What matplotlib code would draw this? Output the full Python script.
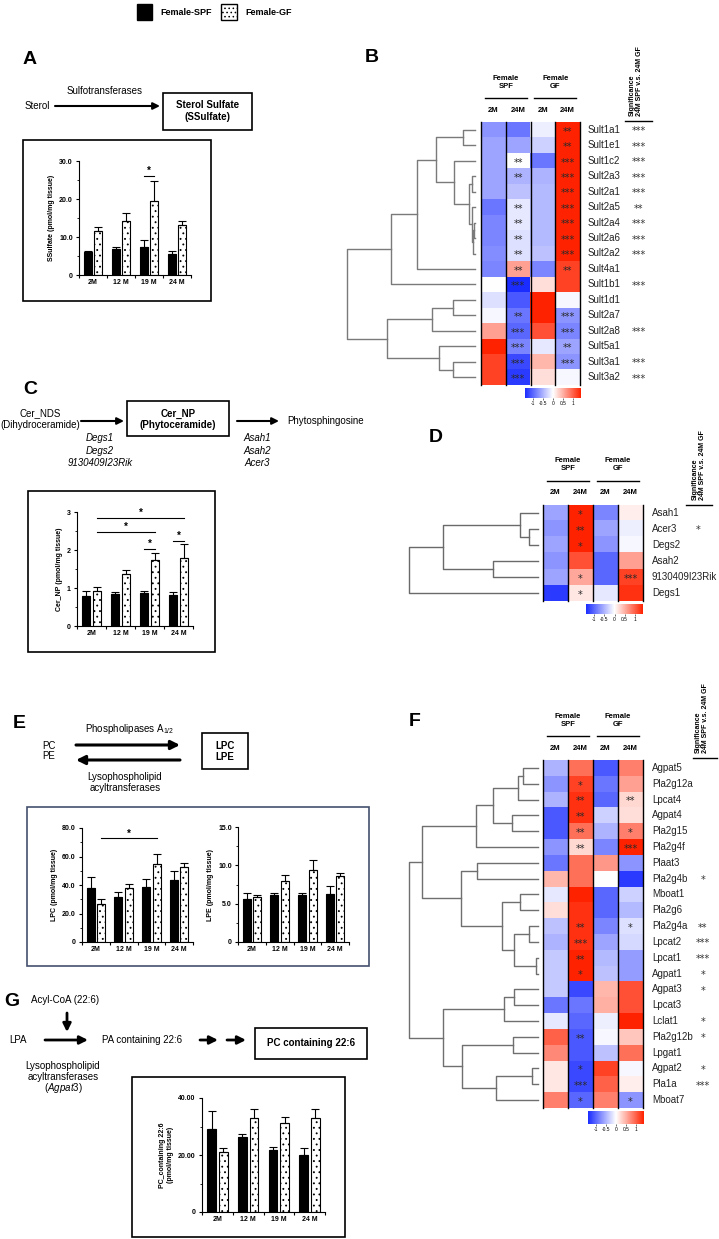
import numpy as np
import matplotlib
matplotlib.use('Agg')
import matplotlib.pyplot as plt
from matplotlib.colors import LinearSegmentedColormap
from matplotlib.patches import Patch, Rectangle
from matplotlib.ticker import MultipleLocator

plt.rcParams['font.family'] = ['Liberation Sans', 'DejaVu Sans']
plt.rcParams['mathtext.fontset'] = 'custom'
plt.rcParams['mathtext.rm'] = 'Liberation Sans'
plt.rcParams['mathtext.it'] = 'Liberation Sans:italic'
plt.rcParams['hatch.linewidth'] = 0.6

# ---------------- bar chart data (mean and upper error) ----------------
ages = ['2M', '12 M', '19 M', '24 M']

ssulfate_spf = [6.1, 6.8, 7.3, 5.5]
ssulfate_spf_err = [0.3, 0.7, 1.8, 0.7]
ssulfate_gf = [11.5, 14.2, 19.6, 13.2]
ssulfate_gf_err = [1.1, 2.0, 5.1, 0.9]
# significance bars: (group, series) -> (group, series), height
ssulfate_sig = [((2, 0), (2, 1), 26.1)]

cernp_spf = [0.80, 0.84, 0.87, 0.81]
cernp_spf_err = [0.13, 0.06, 0.05, 0.08]
cernp_gf = [0.91, 1.36, 1.75, 1.80]
cernp_gf_err = [0.12, 0.11, 0.17, 0.35]
cernp_sig = [((0, 1), (3, 1), 2.85), ((0, 1), (2, 1), 2.48),
             ((2, 0), (2, 1), 2.03), ((3, 0), (3, 1), 2.23)]

lpc_spf = [38.1, 31.9, 38.6, 43.7]
lpc_spf_err = [7.5, 3.0, 5.6, 6.1]
lpc_gf = [27.0, 37.7, 54.4, 52.6]
lpc_gf_err = [3.0, 2.8, 7.7, 3.0]
lpc_sig = [((0, 1), (2, 1), 72.7)]

lpe_spf = [5.65, 6.1, 6.1, 6.3]
lpe_spf_err = [0.8, 0.3, 0.35, 0.95]
lpe_gf = [5.85, 8.0, 9.35, 8.6]
lpe_gf_err = [0.3, 0.75, 1.3, 0.45]

pc226_spf = [29.1, 26.3, 21.8, 20.0]
pc226_spf_err = [6.3, 1.1, 1.1, 2.5]
pc226_gf = [21.0, 33.0, 31.3, 33.0]
pc226_gf_err = [1.4, 3.1, 2.1, 3.2]

# ---------------- heatmap data (z-scores) ----------------
heat_cols = ['2M', '24M', '2M', '24M']

b_genes = ['Sult1a1', 'Sult1e1', 'Sult1c2', 'Sult2a3', 'Sult2a1', 'Sult2a5', 'Sult2a4',
           'Sult2a6', 'Sult2a2', 'Sult4a1', 'Sult1b1', 'Sult1d1', 'Sult2a7', 'Sult2a8',
           'Sult5a1', 'Sult3a1', 'Sult3a2']
b_vals = [[-0.7, -0.9, -0.1, 1.4], [-0.6, -0.6, -0.3, 1.4], [-0.6, 0.0, -0.9, 1.4],
          [-0.6, -0.5, -0.5, 1.4], [-0.6, -0.4, -0.45, 1.4], [-0.9, -0.15, -0.45, 1.4],
          [-0.8, -0.15, -0.45, 1.4], [-0.8, -0.2, -0.45, 1.4], [-0.75, -0.2, -0.4, 1.4],
          [-0.8, 0.6, -0.8, 1.2], [0.0, -1.4, 0.2, 1.2], [-0.2, -1.1, 1.4, -0.05],
          [-0.05, -0.9, 1.4, -0.7], [0.6, -1.0, 1.1, -0.8], [1.4, -0.8, -0.15, -0.6],
          [1.2, -1.2, 0.45, -0.7], [1.2, -1.3, 0.2, -0.05]]
b_stars = [['', '', '', '**'], ['', '', '', '**'], ['', '**', '', '***'], ['', '**', '', '***'],
           ['', '', '', '***'], ['', '**', '', '***'], ['', '**', '', '***'], ['', '**', '', '***'],
           ['', '**', '', '***'], ['', '**', '', '**'], ['', '***', '', ''], ['', '', '', ''],
           ['', '**', '', '***'], ['', '***', '', '***'], ['', '***', '', '**'],
           ['', '***', '', '***'], ['', '***', '', '']]
b_sig = ['***', '***', '***', '***', '***', '**', '***', '***', '***', '', '***', '', '',
         '***', '', '***', '***']
# dendrogram merges: (node a, node b, height); new nodes numbered after the leaves
b_merges = [(0, 1, 0.094), (6, 7, 0.01), (18, 8, 0.016), (5, 19, 0.02), (3, 4, 0.025),
            (21, 20, 0.047), (2, 22, 0.164), (17, 23, 0.305), (24, 9, 0.45), (25, 10, 0.66),
            (11, 12, 0.17), (27, 13, 0.336), (15, 16, 0.17), (14, 29, 0.28), (28, 30, 0.69),
            (26, 31, 1.0)]

d_genes = ['Asah1', 'Acer3', 'Degs2', 'Asah2', '9130409I23Rik', 'Degs1']
d_vals = [[-0.6, 1.4, -0.8, 0.1], [-0.7, 1.4, -0.6, -0.1], [-0.6, 1.4, -0.7, -0.05],
          [-0.7, 1.1, -1.0, 0.6], [-0.6, 0.55, -1.0, 1.2], [-1.3, 0.15, -0.15, 1.3]]
d_stars = [['', '*', '', ''], ['', '**', '', ''], ['', '*', '', ''], ['', '', '', ''],
           ['', '*', '', '***'], ['', '*', '', '']]
d_sig = ['', '*', '', '', '', '']
d_merges = [(1, 2, 0.07), (0, 6, 0.14), (3, 4, 0.35), (7, 8, 0.736), (9, 5, 1.0)]

f_genes = ['Agpat5', 'Pla2g12a', 'Lpcat4', 'Agpat4', 'Pla2g15', 'Pla2g4f', 'Plaat3',
           'Pla2g4b', 'Mboat1', 'Pla2g6', 'Pla2g4a', 'Lpcat2', 'Lpcat1', 'Agpat1', 'Agpat3',
           'Lpcat3', 'Lclat1', 'Pla2g12b', 'Lpgat1', 'Agpat2', 'Pla1a', 'Mboat7']
f_vals = [[-0.5, 0.9, -1.1, 0.8], [-0.7, 1.2, -0.9, 0.6], [-0.5, 1.3, -1.0, 0.25],
          [-1.1, 1.3, -0.3, 0.2], [-1.1, 0.9, -0.5, 0.8], [-0.7, 0.25, -0.8, 1.4],
          [-0.9, 0.9, 0.65, -0.7], [0.45, 0.9, 0.0, -1.3], [-0.15, 1.4, -1.0, -0.3],
          [0.2, 1.3, -1.0, -0.45], [-0.4, 1.3, -0.8, -0.2], [-0.5, 1.3, -0.6, -0.25],
          [-0.35, 1.4, -0.45, -0.65], [-0.35, 1.4, -0.4, -0.65], [-0.35, -1.2, 0.45, 1.1],
          [-0.9, -0.9, 0.5, 1.1], [-0.15, -1.0, -0.1, 1.4], [1.0, -1.1, -0.05, 0.35],
          [0.75, -1.1, -0.4, 0.9], [0.15, -1.2, 1.2, -0.05], [0.15, -1.2, 1.0, 0.1],
          [0.8, -1.0, 0.8, -0.7]]
f_stars = [['', '', '', ''], ['', '*', '', ''], ['', '**', '', '**'], ['', '**', '', ''],
           ['', '**', '', '*'], ['', '**', '', '***'], ['', '', '', ''], ['', '', '', ''],
           ['', '', '', ''], ['', '', '', ''], ['', '**', '', '*'], ['', '***', '', ''],
           ['', '**', '', ''], ['', '*', '', ''], ['', '', '', ''], ['', '', '', ''],
           ['', '', '', ''], ['', '**', '', ''], ['', '', '', ''], ['', '*', '', ''],
           ['', '***', '', ''], ['', '*', '', '*']]
f_sig = ['', '', '', '', '', '', '', '*', '', '', '**', '***', '***', '*', '*', '', '*', '*',
         '', '*', '***', '']
f_merges = [(0, 1, 0.116), (22, 2, 0.155), (3, 4, 0.2), (23, 24, 0.35), (25, 5, 0.48),
            (6, 7, 0.47), (8, 9, 0.14), (10, 11, 0.07), (12, 13, 0.015), (29, 30, 0.186),
            (28, 31, 0.28), (27, 32, 0.6), (26, 33, 0.9), (14, 15, 0.186), (35, 16, 0.264),
            (17, 18, 0.194), (19, 20, 0.047), (38, 21, 0.326), (37, 39, 0.59),
            (36, 40, 0.736), (34, 41, 1.0)]

cmap = LinearSegmentedColormap.from_list('bwr2', ['#1a2cff', '#ffffff', '#ff2200'])
STAR_FONT = ['DejaVu Sans']

# ---------------- figure in pixel units ----------------
W, H = 719, 1239
fig = plt.figure(figsize=(W / 100, H / 100), dpi=100)


def px_axes(x0, y0, x1, y1):
    return fig.add_axes([x0 / W, 1 - y1 / H, (x1 - x0) / W, (y1 - y0) / H])


# overlay axes for the pathway diagrams, frames and labels
ov = px_axes(0, 0, W, H)
ov.set_xlim(0, W)
ov.set_ylim(H, 0)
ov.axis('off')


def txt(x, y, s, size=7, **kw):
    ov.text(x, y, s, fontsize=size, ha=kw.pop('ha', 'center'), va=kw.pop('va', 'center'), **kw)


def arrow(x0, y0, x1, y1, lw=1.5, head=10):
    ov.annotate('', xy=(x1, y1), xytext=(x0, y0),
                arrowprops=dict(arrowstyle='-|>', color='k', lw=lw, shrinkA=0, shrinkB=0,
                                mutation_scale=head))


def frame(x0, y0, x1, y1, color='k', lw=1.2):
    ov.add_patch(Rectangle((x0, y0), x1 - x0, y1 - y0, fill=False, edgecolor=color, lw=lw))


OFF, BW = 0.19, 0.29


def bar_chart(rect, spf, spf_err, gf, gf_err, ymax, yticks, ylabels, minor, ylabel, sig=()):
    ax = px_axes(*rect)
    ax.set_facecolor('none')
    x = np.arange(len(ages))
    ek = dict(ecolor='k', elinewidth=0.8, capsize=3, capthick=0.8)
    zero = np.zeros(len(x))
    ax.bar(x - OFF, spf, BW, color='k', edgecolor='k', lw=0.8, yerr=[zero, spf_err], error_kw=ek)
    ax.bar(x + OFF, gf, BW, color='white', edgecolor='k', lw=0.8, hatch='...',
           yerr=[zero, gf_err], error_kw=ek)
    ax.set_xlim(-0.5, len(x) - 0.5)
    ax.set_ylim(0, ymax)
    for s in ['top', 'right']:
        ax.spines[s].set_visible(False)
    for s in ['left', 'bottom']:
        ax.spines[s].set_linewidth(0.8)
    ax.set_xticks(np.arange(len(x) + 1) - 0.5)
    ax.set_xticklabels([])
    ax.set_xticks(x, minor=True)
    ax.set_xticklabels(ages, minor=True, fontsize=5, fontweight='bold')
    ax.tick_params(axis='x', which='major', length=2.5, width=0.8)
    ax.tick_params(axis='x', which='minor', length=0, pad=3)
    ax.set_yticks(yticks)
    ax.set_yticklabels(ylabels, fontsize=5, fontweight='bold')
    ax.yaxis.set_minor_locator(MultipleLocator(minor))
    ax.tick_params(axis='y', which='major', length=2.5, width=0.8, pad=2)
    ax.tick_params(axis='y', which='minor', length=1.5, width=0.6)
    ax.set_ylabel(ylabel, fontsize=5, fontweight='bold', labelpad=3)
    for (ga, sa), (gb, sb), h in sig:
        xa = ga + (OFF if sa else -OFF)
        xb = gb + (OFF if sb else -OFF)
        ax.plot([xa, xb], [h, h], color='k', lw=0.8, clip_on=False)
        ax.text((xa + xb) / 2, h, '*', ha='center', va='bottom', fontsize=7, fontweight='bold')
    return ax


def dendrogram(rect, n, merges, color='#7a7a7a'):
    ax = px_axes(*rect)
    ax.set_xlim(1, 0)
    ax.set_ylim(n - 0.5, -0.5)
    ax.axis('off')
    pos = {i: (0.0, float(i)) for i in range(n)}
    for k, (a, b, h) in enumerate(merges):
        ha, ya = pos[a]
        hb, yb = pos[b]
        ax.plot([ha, h, h, hb], [ya, ya, yb, yb], color=color, lw=1, clip_on=False)
        pos[n + k] = (h, (ya + yb) / 2)


def heatmap(rect, genes, vals, stars, sig, label_x, sig_x, cbar_rect):
    x0, y0, x1, y1 = rect
    ax = px_axes(*rect)
    im = ax.imshow(np.array(vals), cmap=cmap, vmin=-1.4, vmax=1.4, aspect='auto',
                   interpolation='nearest')
    ax.axis('off')
    for j in range(len(heat_cols) + 1):
        ax.axvline(j - 0.5, color='k', lw=1.0, clip_on=False)
    for i, row in enumerate(stars):
        for j, s in enumerate(row):
            if s:
                ax.text(j, i + 0.12, s, ha='center', va='center', fontsize=7, color='#2a2a2a',
                        family=STAR_FONT)
    rh = (y1 - y0) / len(genes)
    for i, g in enumerate(genes):
        yc = y0 + (i + 0.5) * rh
        txt(label_x, yc, g, size=7, ha='left', color='#222222')
        if sig[i]:
            txt(sig_x, yc + 1.5, sig[i], size=7, color='#333333', family=STAR_FONT)
    # header
    cw = (x1 - x0) / len(heat_cols)
    centers = [x0 + cw * (j + 0.5) for j in range(len(heat_cols))]
    for k, grp in enumerate(['Female\nSPF', 'Female\nGF']):
        cx = (centers[2 * k] + centers[2 * k + 1]) / 2
        txt(cx, y0 - 40, grp, size=5.5, fontweight='bold', linespacing=1.2)
        ov.plot([cx - 21, cx + 21], [y0 - 24, y0 - 24], color='k', lw=1)
    for c, lab in zip(centers, heat_cols):
        txt(c, y0 - 12, lab, size=5.5, fontweight='bold')
    # colour key
    cax = px_axes(*cbar_rect)
    cb = fig.colorbar(im, cax=cax, orientation='horizontal', ticks=[-1, -0.5, 0, 0.5, 1])
    cb.outline.set_visible(False)
    cb.ax.set_xticklabels(['-1', '-0.5', '0', '0.5', '1'])
    cb.ax.tick_params(labelsize=3.5, length=1.5, width=0.4, pad=1)


def sig_header(x, y_bottom, x0, x1):
    txt(x, y_bottom, 'Significance\n24M SPF v.s. 24M GF', size=5, va='bottom', rotation=90,
        multialignment='left', fontweight='bold', linespacing=1.1)
    ov.plot([x0, x1], [y_bottom + 5, y_bottom + 5], color='k', lw=1)


# ---------------- legend ----------------
handles = [Patch(facecolor='k', edgecolor='k', label='Female-SPF'),
           Patch(facecolor='white', edgecolor='k', hatch='....', label='Female-GF')]
fig.legend(handles=handles, loc='center', bbox_to_anchor=(214 / W, 1 - 12 / H), ncol=2,
           frameon=False, handlelength=1.75, handleheight=2.5, handletextpad=0.9,
           columnspacing=1.0,
           prop=dict(family=['Liberation Sans Narrow', 'Liberation Sans'], weight='bold', size=6.5))

# ---------------- panel A ----------------
txt(30, 60, 'A', size=14, fontweight='bold')
txt(105, 91, 'Sulfotransferases')
txt(37, 106, 'Sterol')
arrow(55, 106, 160, 106)
frame(163, 93, 252, 130)
txt(207.5, 105, 'Sterol Sulfate', fontweight='bold')
txt(207.5, 117, '(SSulfate)', fontweight='bold')
frame(23, 140, 211, 301)
bar_chart((79, 161, 191, 275), ssulfate_spf, ssulfate_spf_err, ssulfate_gf, ssulfate_gf_err,
          30, [0, 10, 20, 30], ['0', '10.0', '20.0', '30.0'], 5,
          'SSulfate (pmol/mg tissue)', ssulfate_sig)

# ---------------- panel B ----------------
txt(372, 58, 'B', size=14, fontweight='bold')
dendrogram((347, 122, 475, 385), len(b_genes), b_merges)
heatmap((481, 122, 580, 385), b_genes, b_vals, b_stars, b_sig, 588, 639, (525, 388, 581, 398))
sig_header(636, 116, 625, 652)

# ---------------- panel C ----------------
txt(30, 390, 'C', size=14, fontweight='bold')
txt(40, 413, 'Cer_NDS')
txt(40, 425, '(Dihydroceramide)')
arrow(81, 421, 124, 421)
frame(127, 401, 229, 436)
txt(178, 414, 'Cer_NP', fontweight='bold')
txt(178, 425, '(Phytoceramide)', fontweight='bold')
arrow(237, 421, 279, 421)
txt(287, 421, 'Phytosphingosine', ha='left')
for k, g in enumerate(['Degs1', 'Degs2', '9130409I23Rik']):
    txt(100, 438 + k * 12.5, g, style='italic')
for k, g in enumerate(['Asah1', 'Asah2', 'Acer3']):
    txt(257, 438 + k * 12.5, g, style='italic')
frame(28, 491, 215, 652)
bar_chart((77, 512, 193, 626), cernp_spf, cernp_spf_err, cernp_gf, cernp_gf_err,
          3, [0, 1, 2, 3], ['0', '1', '2', '3'], 0.5, 'Cer_NP (pmol/mg tissue)', cernp_sig)

# ---------------- panel D ----------------
txt(436, 437, 'D', size=14, fontweight='bold')
dendrogram((409, 505, 538, 601), len(d_genes), d_merges, color='#6a6a6a')
heatmap((543, 505, 643, 601), d_genes, d_vals, d_stars, d_sig, 652, 698, (586, 604, 643, 614))
sig_header(699, 500, 686, 712)

# ---------------- panel E ----------------
txt(19, 723, 'E', size=14, fontweight='bold')
txt(130, 729, r'Phospholipases A$_{\mathrm{1/2}}$')
txt(49, 746, 'PC')
txt(49, 756, 'PE')
arrow(76, 745, 180, 745, lw=2.2, head=13)
arrow(180, 760, 76, 760, lw=2.2, head=13)
frame(202, 733, 248, 769)
txt(225, 746, 'LPC', fontweight='bold')
txt(225, 757, 'LPE', fontweight='bold')
txt(125, 777, 'Lysophospholipid')
txt(125, 788, 'acyltransferases')
frame(27, 807, 369, 966, color='#44506e')
bar_chart((82, 828, 193, 942), lpc_spf, lpc_spf_err, lpc_gf, lpc_gf_err,
          80, [0, 20, 40, 60, 80], ['0', '20.0', '40.0', '60.0', '80.0'], 10,
          'LPC (pmol/mg tissue)', lpc_sig)
bar_chart((238, 827, 349, 942), lpe_spf, lpe_spf_err, lpe_gf, lpe_gf_err,
          15, [0, 5, 10, 15], ['0', '5.0', '10.0', '15.0'], 2.5, 'LPE (pmol/mg tissue)')

# ---------------- panel F ----------------
txt(415, 721, 'F', size=14, fontweight='bold')
dendrogram((409, 760, 538, 1108), len(f_genes), f_merges, color='#6f6f6f')
heatmap((543, 760, 643, 1108), f_genes, f_vals, f_stars, f_sig, 652, 703, (588, 1111, 644, 1124))
sig_header(702, 753, 693, 717)

# ---------------- panel G ----------------
txt(12, 1002, 'G', size=14, fontweight='bold')
txt(65, 1000, 'Acyl-CoA (22:6)')
arrow(67, 1013, 67, 1032, lw=2.0, head=12)
txt(18, 1040, 'LPA')
arrow(45, 1040, 88, 1040, lw=2.0, head=12)
txt(142, 1040, 'PA containing 22:6')
arrow(200, 1040, 218, 1040, lw=2.0, head=12)
arrow(227, 1040, 246, 1040, lw=2.0, head=12)
frame(255, 1028, 367, 1059)
txt(311, 1043, 'PC containing 22:6', fontweight='bold')
txt(63, 1066, 'Lysophospholipid')
txt(63, 1077, 'acyltransferases')
txt(63, 1088, r'($\mathit{Agpat3}$)')
frame(132, 1077, 345, 1237)
bar_chart((202, 1098, 325, 1212), pc226_spf, pc226_spf_err, pc226_gf, pc226_gf_err,
          40, [0, 20, 40], ['0', '20.00', '40.00'], 10,
          'PC_containing 22:6\n(pmol/mg tissue)')

fig.savefig('out.png', dpi=100)
